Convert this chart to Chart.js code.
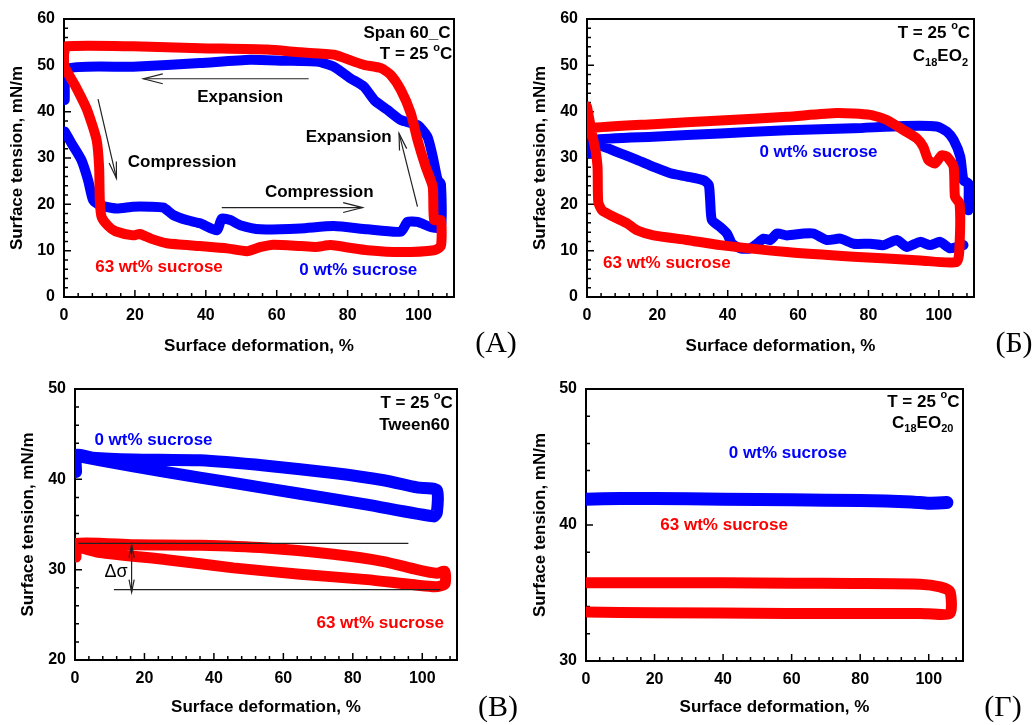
<!DOCTYPE html>
<html>
<head>
<meta charset="utf-8">
<script src="https://cdn.jsdelivr.net/npm/chart.js@4.4.1/dist/chart.umd.min.js"></script>
<style>
  body { margin: 0; background: #fff; width: 1036px; height: 725px; position: relative; overflow: hidden; }
  .cell { position: absolute; }
</style>
</head>
<body>
<div class="cell" style="left:0;top:0"><canvas id="chA" width="518" height="362"></canvas></div>
<div class="cell" style="left:518px;top:0"><canvas id="chB" width="518" height="362"></canvas></div>
<div class="cell" style="left:0;top:362px"><canvas id="chV" width="518" height="363"></canvas></div>
<div class="cell" style="left:518px;top:362px"><canvas id="chG" width="518" height="363"></canvas></div>
<script>
// tick labels
const xTicks = [0, 20, 40, 60, 80, 100];
const yTicksAB = [0, 10, 20, 30, 40, 50, 60];
const yTicksV = [20, 30, 40, 50];
const yTicksG = [30, 40, 50];

// (А) Span 60_C
const aRedX = [0, 0, 3.3, 6.5, 9.2, 9.9, 10.1, 10.6, 12.5, 14.5, 19.5, 21.4, 24.5, 29, 38.4, 46, 51.6, 55.5, 59, 66.7, 71, 75.2, 80, 85.6, 95, 104.4, 106.3, 106.3, 104.4, 104, 102, 99.7, 97.8, 95, 92.2, 89.4, 84.6, 81.8, 76.1, 66.7, 57.3, 38.4, 19.5, 0.7, 0];
const aRedY = [53.5, 50, 45.4, 40.4, 33.9, 28.1, 20.9, 17.3, 15.3, 14.2, 13.3, 13.6, 12.6, 11.6, 11, 10.5, 9.9, 10.8, 11.3, 11, 10.8, 11.2, 10.7, 10.1, 9.7, 10.1, 11, 16.6, 16.6, 23.8, 28.1, 33.9, 39.7, 44.7, 47.9, 49.4, 50.1, 50.8, 52.3, 52.8, 53.4, 53.7, 54.1, 54.1, 52.5];
const aBlueX = [0.2, 2.1, 4.9, 6.8, 8.2, 10.1, 14.8, 19.5, 24.2, 28, 30.8, 34.6, 38.4, 43.1, 44.5, 46.9, 49.7, 55.4, 66.7, 76.1, 85.6, 95, 96.9, 99.7, 103.5, 106.3, 106.3, 105.4, 104, 102.5, 99.7, 95, 91.2, 87.5, 84.6, 80.8, 76.1, 71.4, 62, 52.5, 38.4, 19.5, 0.7, 0.2];
const aBlueY = [35.7, 33.2, 29.6, 25.2, 20.9, 19.8, 19.1, 19.5, 19.5, 19.3, 17.7, 16.6, 15.9, 14.4, 16.9, 16.6, 15.5, 14.6, 14.8, 15.3, 14.6, 14.1, 16.2, 16.2, 15.1, 15.1, 24.5, 25.2, 30.3, 34.6, 37.1, 38.2, 40.4, 42.5, 45.4, 47.2, 49.7, 50.8, 51, 51.2, 50.5, 49.7, 49.2, 42.5];

// (Б) C18EO2
const bRedX = [0, 1.4, 2.4, 3, 3.2, 4.3, 7.6, 11.4, 14.2, 18.9, 28.4, 37.9, 56.8, 75.8, 94.7, 105.1, 105.9, 105.9, 104.6, 104.2, 102.3, 100.8, 98.9, 97, 95.6, 93.8, 90, 85.2, 80.5, 71, 56.8, 37.9, 18.9, 0.9, 0];
const bRedY = [41.1, 35.3, 31.7, 28, 20.5, 18.7, 17.3, 15.9, 14.4, 13.3, 12.3, 11.2, 9.7, 8.7, 7.9, 7.6, 11.5, 20.2, 21.6, 28.1, 30.3, 30.6, 28.8, 29.6, 32.4, 34.2, 36, 38.2, 39.3, 39.7, 38.9, 38.1, 37.3, 36.4, 35.3];
const bBlueX = [0, 0.5, 2.8, 9.5, 14.2, 18.9, 23.7, 28.4, 33.1, 34.6, 35, 35.5, 37.9, 39.8, 41.2, 43.6, 46.4, 48.3, 50.2, 52.1, 54, 56.8, 61.6, 64.4, 68.2, 72, 75.8, 80.5, 84.3, 88.1, 90.9, 94.7, 97.5, 100.4, 103.2, 107, null, 108.4, 108.4, 107, 106.1, 104.2, 102.3, 99.4, 90, 75.8, 56.8, 37.9, 18.9, 1.9, 0];
const bBlueY = [33.9, 31, 32.8, 31, 29.6, 28.1, 26.7, 26, 25.2, 24.2, 20.9, 16.6, 15.1, 13.7, 11.5, 10.5, 10.5, 11.5, 12.6, 12.3, 13.7, 13.3, 13.7, 13.7, 12.3, 12.6, 11.5, 11.5, 11.2, 12.3, 10.8, 11.9, 11.2, 11.9, 10.5, 11.2, null, 18.7, 24.5, 25.2, 30.3, 33.9, 35.7, 36.8, 36.9, 36.4, 36, 35.3, 34.6, 33.9, 32.4];

// (В) Tween60
const vRedX = [0.3, 0.3, 16.8, 36, 55.2, 74.4, 88.9, 98.5, 104.2, 106.5, 106.5, 103.7, 84.1, 64.8, 45.6, 26.4, 7.2, 0.5, 0.3];
const vRedY = [31.4, 32.9, 32.75, 32.7, 32.4, 31.7, 30.9, 30, 29.6, 29.8, 28.4, 28.1, 28.9, 29.5, 30.2, 31.1, 31.9, 32.5, 32.2];
const vBlueX = [0.3, 0.3, 5, 16.8, 36, 55.2, 74.4, 88.9, 98.5, 104.2, 104.2, 103.3, 84.1, 64.8, 45.6, 26.4, 7.2, 0.5];
const vBlueY = [40.8, 42.7, 42.4, 42.2, 42.1, 41.5, 40.7, 39.9, 39.1, 38.8, 36.3, 35.9, 37.2, 38.4, 39.6, 40.8, 42.1, 42.6];

// (Г) C18EO20
const gRedX = [0.2, 20, 40, 60, 78, 97.5, 103.3, 106.2, 106.2, 97.5, 58.6, 19.6, 0.2];
const gRedY = [35.75, 35.75, 35.75, 35.72, 35.7, 35.65, 35.45, 35.1, 33.5, 33.5, 33.5, 33.55, 33.6];
const gBlueX = [0, 10, 20, 40, 60, 80, 95, 100, 105.3];
const gBlueY = [41.9, 41.95, 41.95, 41.9, 41.85, 41.8, 41.7, 41.6, 41.65];

const FAM = '"Liberation Sans", Arial, sans-serif';
const RED = '#ff0000', BLUE = '#0000ff';

function pts(xs, ys) {
    return xs.map((x, i) => ({ x: x, y: ys[i] }));
}

// 文字列（上付き・下付きあり）を描く
function richText(ctx, parts, x, y, align, color, size, weight) {
    const w8 = weight || 'bold';
    const big = `${w8} ${size}px ${FAM}`;
    const small = `${w8} ${Math.round(size * 0.65)}px ${FAM}`;
    let w = 0;
    parts.forEach(p => {
        ctx.font = Array.isArray(p) ? small : big;
        w += ctx.measureText(Array.isArray(p) ? p[0] : p).width;
    });
    let cx = align === 'right' ? x - w : align === 'center' ? x - w / 2 : x;
    ctx.fillStyle = color;
    ctx.textBaseline = 'middle';
    ctx.textAlign = 'left';
    parts.forEach(p => {
        if (Array.isArray(p)) {
            ctx.font = small;
            const dy = p[1] === 'sup' ? -size * 0.42 : size * 0.38;
            ctx.fillText(p[0], cx, y + dy);
            cx += ctx.measureText(p[0]).width;
        } else {
            ctx.font = big;
            ctx.fillText(p, cx, y);
            cx += ctx.measureText(p).width;
        }
    });
}

function head(ctx, x1, y1, x2, y2, len, ang) {
    const t = Math.atan2(y2 - y1, x2 - x1);
    ctx.beginPath();
    ctx.moveTo(x2 - len * Math.cos(t - ang), y2 - len * Math.sin(t - ang));
    ctx.lineTo(x2, y2);
    ctx.lineTo(x2 - len * Math.cos(t + ang), y2 - len * Math.sin(t + ang));
    ctx.stroke();
}

const frame = {
    id: 'frame',
    beforeDatasetsDraw(chart, args, o) {
        const { ctx, chartArea: a, scales: { x, y } } = chart;
        ctx.save();
        ctx.strokeStyle = '#000';
        ctx.lineWidth = 1.5;
        ctx.beginPath();
        for (let v = 0; v <= x.max; v += 4) {
            const px = x.getPixelForValue(v);
            const len = v % 20 === 0 ? 7 : 4;
            ctx.moveTo(px, a.bottom);
            ctx.lineTo(px, a.bottom - len);
        }
        for (let v = y.min; v <= y.max; v += 2) {
            const py = y.getPixelForValue(v);
            const len = v % 10 === 0 ? 7 : 4;
            ctx.moveTo(a.left, py);
            ctx.lineTo(a.left + len, py);
        }
        ctx.stroke();
        ctx.lineWidth = 2;
        ctx.strokeRect(a.left, a.top, a.right - a.left, a.bottom - a.top);
        ctx.restore();
    },
    afterDatasetsDraw(chart, args, o) {
        const { ctx, scales: { x, y } } = chart;
        ctx.save();
        ctx.strokeStyle = '#222';
        ctx.lineWidth = 1.2;
        (o.lines || []).forEach(l => {
            ctx.beginPath();
            ctx.moveTo(x.getPixelForValue(l[0]), y.getPixelForValue(l[1]));
            ctx.lineTo(x.getPixelForValue(l[2]), y.getPixelForValue(l[3]));
            ctx.stroke();
        });
        (o.arrows || []).forEach(r => {
            const x1 = x.getPixelForValue(r.from[0]), y1 = y.getPixelForValue(r.from[1]);
            const x2 = x.getPixelForValue(r.to[0]), y2 = y.getPixelForValue(r.to[1]);
            ctx.beginPath();
            ctx.moveTo(x1, y1);
            ctx.lineTo(x2, y2);
            ctx.stroke();
            head(ctx, x1, y1, x2, y2, r.len || 18, r.ang || 0.26);
            if (r.both) head(ctx, x2, y2, x1, y1, r.len || 18, r.ang || 0.26);
        });
        (o.texts || []).forEach(t => {
            richText(ctx, t.parts, x.getPixelForValue(t.x), y.getPixelForValue(t.y),
                t.align || 'center', t.color || '#000', t.size || 17, t.weight);
        });
        if (o.letter) {
            ctx.font = `30px "Liberation Serif", "Times New Roman", serif`;
            ctx.fillStyle = '#000';
            ctx.textAlign = 'center';
            ctx.textBaseline = 'middle';
            ctx.fillText(o.letter.t, o.letter.x, o.letter.y);
        }
        ctx.restore();
    }
};

function makePanel(id, p) {
    const tickFont = { family: FAM, size: 16, weight: 'bold' };
    const titleFont = { family: FAM, size: 17, weight: 'bold' };
    new Chart(document.getElementById(id), {
        type: 'scatter',
        data: {
            datasets: [
                {
                    data: pts(p.redX, p.redY), borderColor: RED, backgroundColor: RED,
                    showLine: true, pointRadius: 0, borderWidth: p.lw, tension: 0.2,
                    borderCapStyle: 'round', borderJoinStyle: 'round', spanGaps: false
                },
                {
                    data: pts(p.blueX, p.blueY), borderColor: BLUE, backgroundColor: BLUE,
                    showLine: true, pointRadius: 0, borderWidth: p.lwBlue || p.lw, tension: 0.2,
                    borderCapStyle: 'round', borderJoinStyle: 'round', spanGaps: false
                }
            ]
        },
        options: {
            responsive: false,
            animation: false,
            events: [],
            layout: { padding: { left: 0, top: p.padTop, right: p.padRight, bottom: 0 } },
            scales: {
                x: {
                    type: 'linear', min: 0, max: 110,
                    afterBuildTicks: s => { s.ticks = xTicks.map(v => ({ value: v })); },
                    afterFit: s => { s.height = p.xH; },
                    grid: { display: false, drawTicks: false },
                    border: { display: false },
                    ticks: { font: tickFont, color: '#000', padding: 9, autoSkip: false, maxRotation: 0 },
                    title: { display: true, text: 'Surface deformation, %', font: titleFont, color: '#000', padding: { top: 0, bottom: p.xTitlePad } }
                },
                y: {
                    type: 'linear', min: p.yTicks[0], max: p.yTicks[p.yTicks.length - 1],
                    afterBuildTicks: s => { s.ticks = p.yTicks.map(v => ({ value: v })); },
                    afterFit: s => { s.width = p.yW; },
                    grid: { display: false, drawTicks: false },
                    border: { display: false },
                    ticks: { font: tickFont, color: '#000', padding: 9, autoSkip: false },
                    title: { display: true, text: 'Surface tension, mN/m', font: titleFont, color: '#000', padding: { top: p.yTitlePad, bottom: 0 } }
                }
            },
            plugins: {
                legend: { display: false },
                tooltip: { enabled: false },
                frame: { texts: p.texts, arrows: p.arrows, lines: p.lines, letter: p.letter }
            }
        },
        plugins: [frame]
    });
}

const T25 = ['T = 25 ', ['o', 'sup'], 'C'];

makePanel('chA', {
    redX: aRedX, redY: aRedY, blueX: aBlueX, blueY: aBlueY, yTicks: yTicksAB, lw: 10,
    padTop: 19, padRight: 64, xH: 65, yW: 64, xTitlePad: 5, yTitlePad: 7,
    texts: [
        { parts: ['Span 60_C'], x: 109, y: 57, align: 'right' },
        { parts: T25, x: 109.5, y: 52.3, align: 'right' },
        { parts: ['Expansion'], x: 49.7, y: 43.2 },
        { parts: ['Compression'], x: 33.3, y: 29.1 },
        { parts: ['Compression'], x: 72, y: 22.7 },
        { parts: ['Expansion'], x: 80.3, y: 34.5 },
        { parts: ['63 wt% sucrose'], x: 26.8, y: 6.5, color: RED },
        { parts: ['0 wt% sucrose'], x: 83, y: 5.8, color: BLUE }
    ],
    arrows: [
        { from: [69, 47.1], to: [22.4, 47.1], len: 20, ang: 0.25 },
        { from: [9.6, 42.7], to: [14.8, 25.6], len: 17, ang: 0.22 },
        { from: [44.5, 19.3], to: [84.2, 19.3], len: 20, ang: 0.25 },
        { from: [99.7, 19.5], to: [94.5, 35.3], len: 17, ang: 0.22 }
    ],
    letter: { t: '(А)', x: 496, y: 344 }
});

makePanel('chB', {
    redX: bRedX, redY: bRedY, blueX: bBlueX, blueY: bBlueY, yTicks: yTicksAB, lw: 10,
    padTop: 19, padRight: 62, xH: 65, yW: 69, xTitlePad: 5, yTitlePad: 12,
    texts: [
        { parts: T25, x: 108.9, y: 57, align: 'right' },
        { parts: ['C', ['18', 'sub'], 'EO', ['2', 'sub']], x: 108.3, y: 51.9, align: 'right' },
        { parts: ['0 wt% sucrose'], x: 65.8, y: 31.2, color: BLUE },
        { parts: ['63 wt% sucrose'], x: 22.7, y: 7.2, color: RED }
    ],
    letter: { t: '(Б)', x: 496, y: 344 }
});

makePanel('chV', {
    redX: vRedX, redY: vRedY, blueX: vBlueX, blueY: vBlueY, yTicks: yTicksV, lw: 11, lwBlue: 12,
    padTop: 27, padRight: 61, xH: 65, yW: 75, xTitlePad: 7, yTitlePad: 18,
    texts: [
        { parts: T25, x: 108.8, y: 48.4, align: 'right' },
        { parts: ['Tween60'], x: 107.9, y: 46, align: 'right' },
        { parts: ['0 wt% sucrose'], x: 22.6, y: 44.3, color: BLUE },
        { parts: ['63 wt% sucrose'], x: 87.9, y: 24.1, color: RED },
        { parts: ['Δσ'], x: 11.8, y: 29.7, weight: 'normal', size: 18 }
    ],
    lines: [[1, 32.9, 96, 32.9], [11.2, 27.8, 105.2, 27.8]],
    arrows: [{ from: [16.3, 32.75], to: [16.3, 27.5], both: true, len: 13, ang: 0.2 }],
    letter: { t: '(В)', x: 498, y: 346 }
});

makePanel('chG', {
    redX: gRedX, redY: gRedY, blueX: gBlueX, blueY: gBlueY, yTicks: yTicksG, lw: 11, lwBlue: 13,
    padTop: 27, padRight: 73, xH: 64, yW: 68, xTitlePad: 7, yTitlePad: 12,
    texts: [
        { parts: T25, x: 109, y: 49, align: 'right' },
        { parts: ['C', ['18', 'sub'], 'EO', ['20', 'sub']], x: 107.2, y: 47.5, align: 'right' },
        { parts: ['0 wt% sucrose'], x: 58.9, y: 45.3, color: BLUE },
        { parts: ['63 wt% sucrose'], x: 40.3, y: 40, color: RED }
    ],
    letter: { t: '(Г)', x: 485, y: 346 }
});
</script>
</body>
</html>
